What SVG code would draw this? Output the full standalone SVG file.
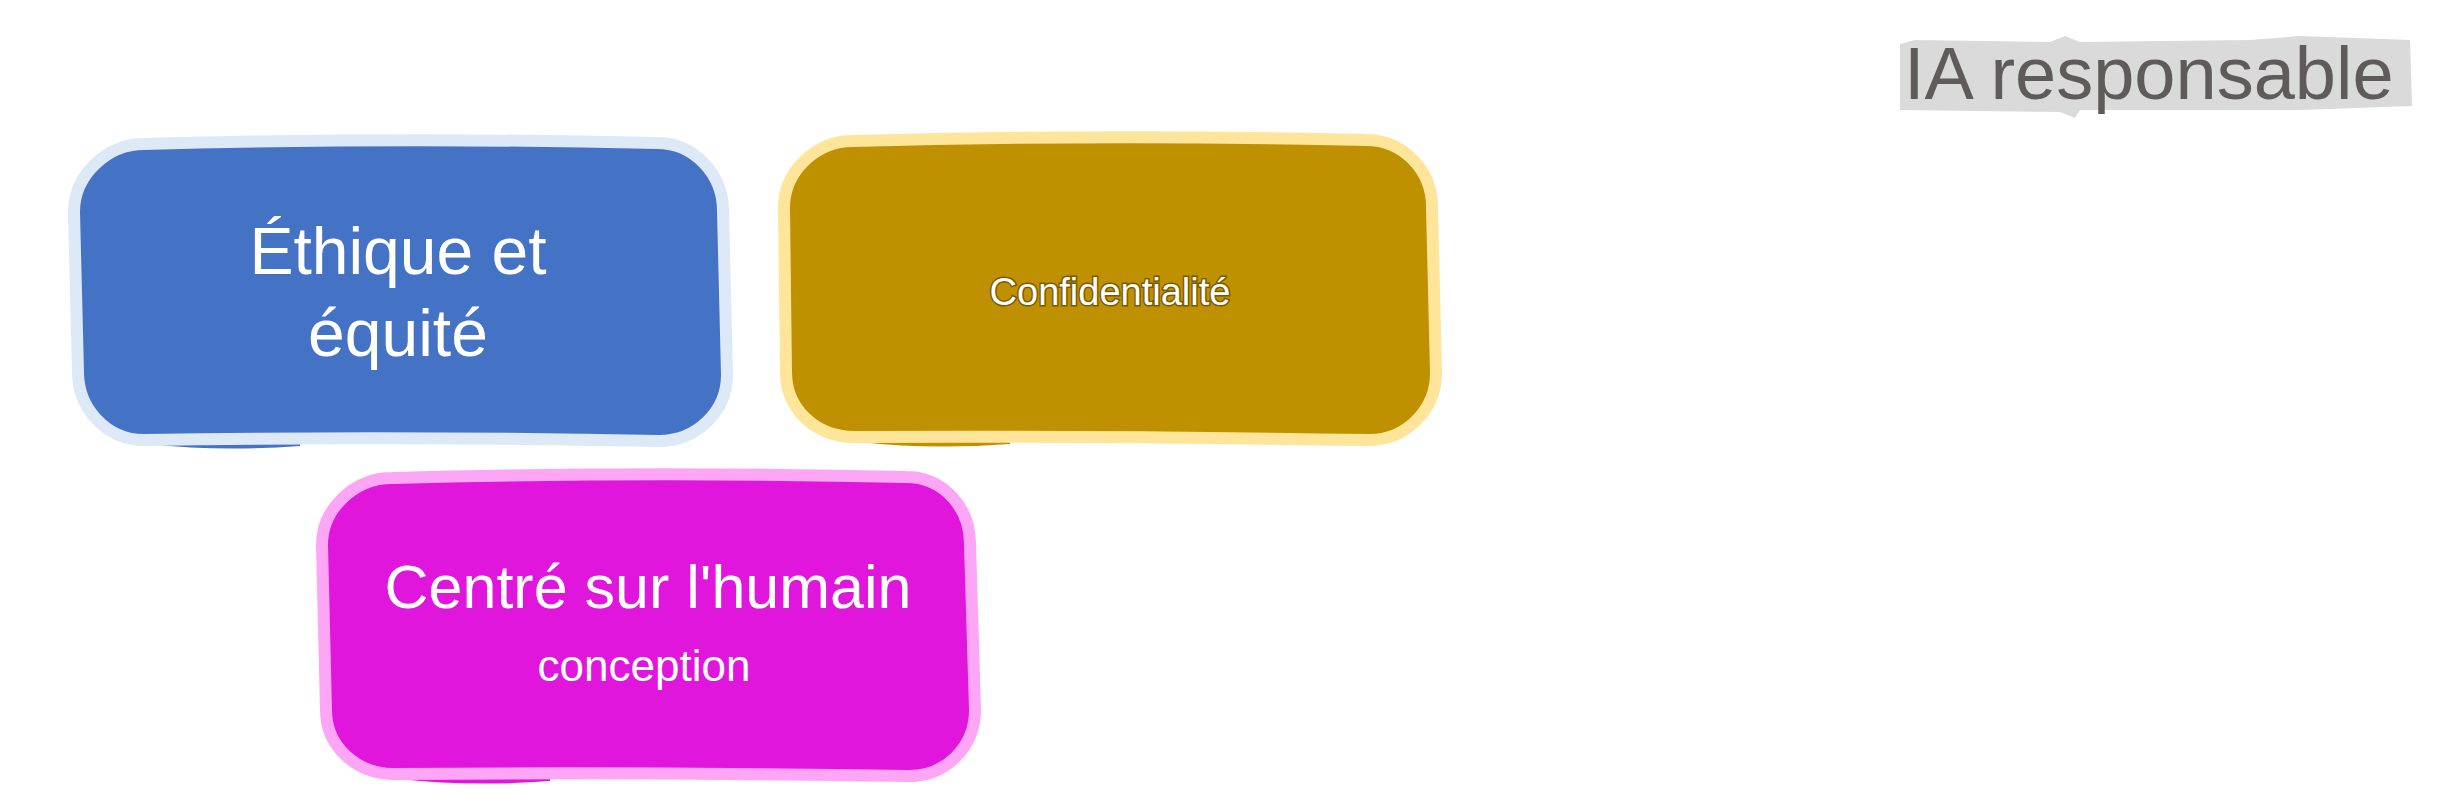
<svg xmlns="http://www.w3.org/2000/svg" width="2459" height="812" viewBox="0 0 2459 812">
<style>
.box{stroke-width:12;stroke-linejoin:round}
.lbl{font-family:"Liberation Sans",Arial,sans-serif;fill:#ffffff;text-anchor:middle}
.title{font-family:"Liberation Sans",Arial,sans-serif;fill:#5f5b5b;font-size:74px}
</style>
<rect width="2459" height="812" fill="#ffffff"/>
<g id="title">
<path d="M1900 44 L1915 40 L2050 42 L2065 36 L2080 42 L2250 40 L2300 36 L2410 40 L2412 106 L2300 110 L2080 110 L2075 118 L2060 112 L1900 110 Z" fill="#dadada"/>
<text class="title" x="1904" y="99">IA responsable</text>
</g>
<g id="node-ethique">
<path d="M150 444 Q 220 452 300 446 L 300 442 L 150 440 Z" fill="#4472c4"/>
<path class="box" d="M144 144 Q 400 137 657 143 C 694 143 723 174 723 211 L 727 375 C 727 412 696 441 659 441 Q 400 436 144 440 C 107 440 78 409 78 372 L 74 212 C 74 175 107 144 144 144 Z" fill="#4472c4" stroke="#dde9f6"/>
<text class="lbl" x="398" y="274" font-size="66">Éthique et</text>
<text class="lbl" x="398" y="356" font-size="66">équité</text>
</g>
<g id="node-confidentialite">
<path d="M860 442 Q 930 450 1010 444 L 1010 440 L 860 438 Z" fill="#bf9000"/>
<path class="box" d="M853 141 Q 1110 134 1366 140 C 1403 140 1432 170 1432 207 L 1436 373 C 1436 410 1406 440 1369 440 Q 1110 436 854 437 C 817 437 786 410 786 372 L 784 208 C 784 171 816 141 853 141 Z" fill="#bf9000" stroke="#ffe599"/>
<text class="lbl" x="1110" y="305" font-size="38" stroke="#7a5a00" stroke-width="3" paint-order="stroke">Confidentialité</text>
</g>
<g id="node-centre">
<path d="M400 779 Q 470 787 550 781 L 550 777 L 400 775 Z" fill="#e016dc"/>
<path class="box" d="M392 478 Q 650 471 906 477 C 943 477 970 507 970 544 L 975 710 C 975 747 946 776 909 776 Q 650 772 394 774 C 357 774 326 747 326 710 L 322 545 C 322 508 355 478 392 478 Z" fill="#e016dc" stroke="#fda6f5"/>
<text class="lbl" x="648" y="608" font-size="61">Centré sur l'humain</text>
<text class="lbl" x="644" y="681" font-size="44">conception</text>
</g>
<g id="connectors"/>
</svg>
